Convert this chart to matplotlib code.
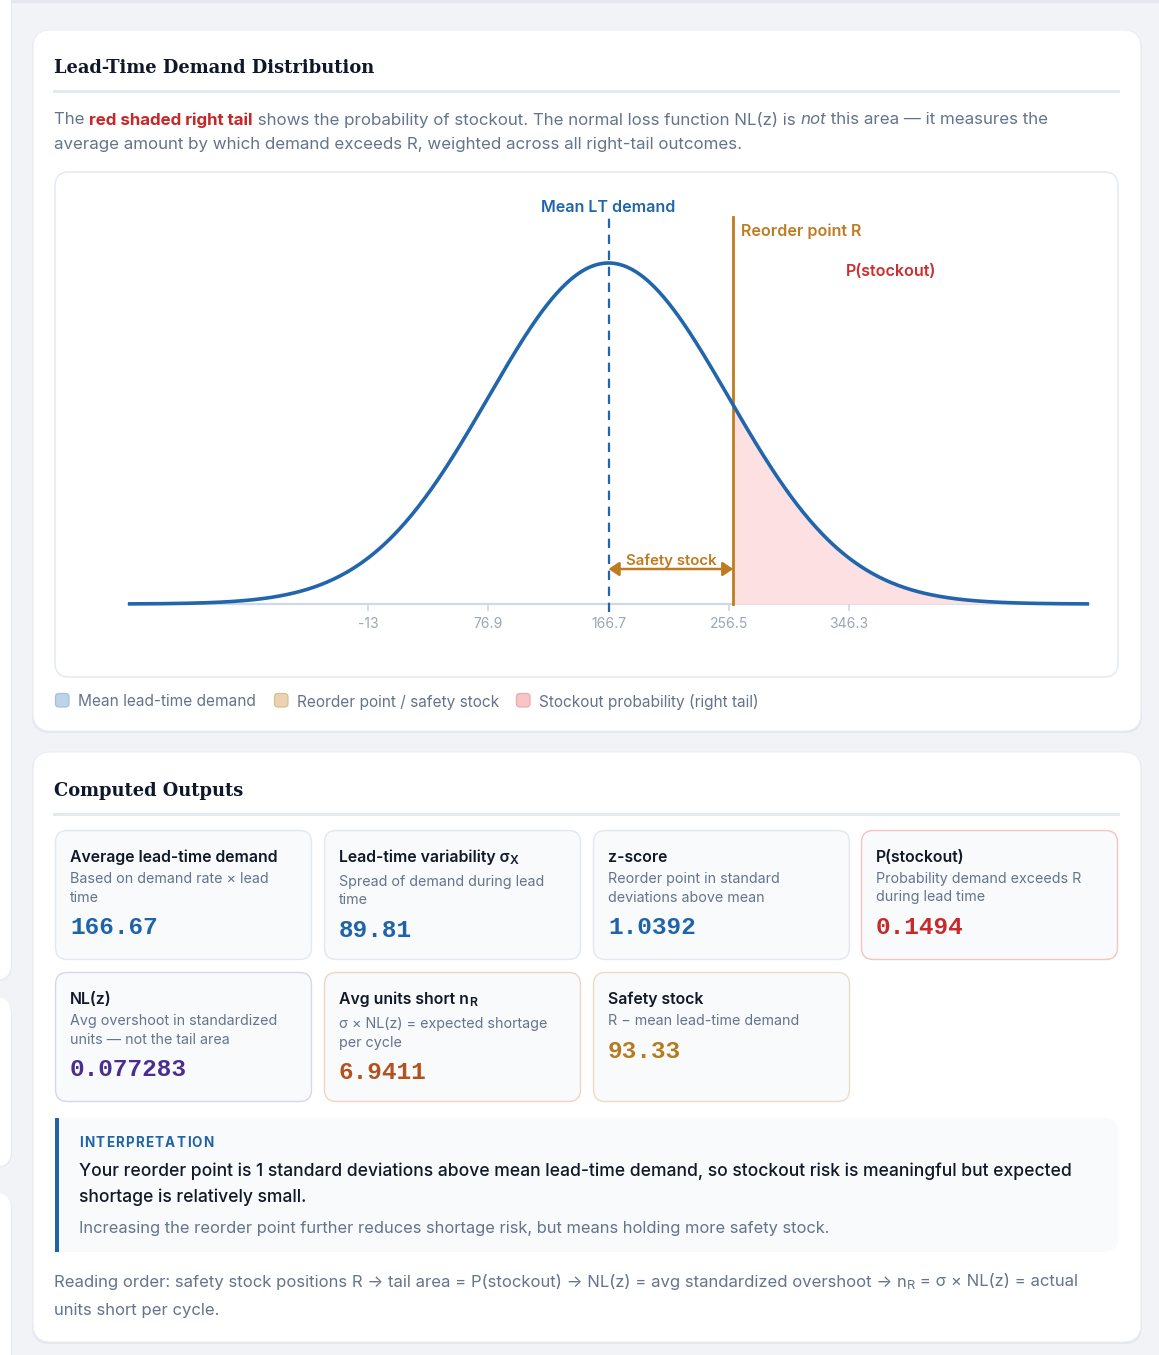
import matplotlib
matplotlib.use("Agg")
import matplotlib.pyplot as plt
from matplotlib.patches import FancyBboxPatch, Rectangle
import numpy as np

plt.rcParams['font.family'] = ['Inter', 'DejaVu Sans']

W, H = 1159, 1355

# ---- chart values ----
mean_lt = 166.67
sigma_lt = 89.81
reorder_point = 260.0
tick_values = [-13.0, 76.9, 166.7, 256.5, 346.3]
tick_labels = ['-13', '76.9', '166.7', '256.5', '346.3']

legend_labels = ['Mean lead-time demand', 'Reorder point / safety stock',
                 'Stockout probability (right tail)']
legend_fill = ['#bdd3ea', '#ebd3b2', '#f8c5c7']
legend_edge = ['#a3c0de', '#dcbd92', '#f0a9ac']

card_titles = [('Average lead-time demand', ''), ('Lead-time variability σ', 'X'),
               ('z-score', ''), ('P(stockout)', ''),
               ('NL(z)', ''), ('Avg units short n', 'R'), ('Safety stock', '')]
card_subtitles = [['Based on demand rate × lead', 'time'],
                  ['Spread of demand during lead', 'time'],
                  ['Reorder point in standard', 'deviations above mean'],
                  ['Probability demand exceeds R', 'during lead time'],
                  ['Avg overshoot in standardized', 'units — not the tail area'],
                  ['σ × NL(z) = expected shortage', 'per cycle'],
                  ['R − mean lead-time demand']]
card_values = ['166.67', '89.81', '1.0392', '0.1494', '0.077283', '6.9411', '93.33']
card_value_colors = ['#1f63a8', '#1f63a8', '#1f63a8', '#c62a2a', '#4a2d91', '#b4521d', '#b87a1f']
card_borders = ['#e2e8f0', '#e2e8f0', '#e2e8f0', '#f4c3c3', '#d9d5ee', '#f2d4c5', '#ecdcc3']

BLUE = '#2166ac'
ORANGE = '#bf7b20'
RED = '#cf2e2e'
GRAY = '#64748b'
DARK = '#111827'
TY = 2  # text baseline nudge, px

fig = plt.figure(figsize=(W / 100, H / 100), dpi=100)
fig.patch.set_facecolor('#f1f3f7')
bg = fig.add_axes([0, 0, 1, 1], zorder=0)
bg.set_xlim(0, W)
bg.set_ylim(H, 0)
bg.axis('off')
renderer = fig.canvas.get_renderer()


def box(x0, y0, x1, y1, r, fc, ec='none', lw=1.0, z=1):
    p = FancyBboxPatch((x0, y0), x1 - x0, y1 - y0,
                       boxstyle=f"round,pad=0,rounding_size={r}",
                       fc=fc, ec=ec, lw=lw, zorder=z)
    bg.add_patch(p)


def txt(x, y, s, size, **kw):
    kw.setdefault('va', 'center')
    kw.setdefault('ha', 'left')
    kw.setdefault('zorder', 5)
    return bg.text(x, y + TY, s, fontsize=size, **kw)


def text_w(s, size, **props):
    t = bg.text(0, 0, s + '|', fontsize=size, **props)
    t2 = bg.text(0, 0, '|', fontsize=size, **props)
    w = t.get_window_extent(renderer=renderer).width - t2.get_window_extent(renderer=renderer).width
    t.remove()
    t2.remove()
    return w


def rich(x, y, parts, size, color=GRAY):
    # parts: (text, props) ; props may hold 'dy' and 'size'
    for s, props in parts:
        props = dict(props)
        dy = props.pop('dy', 0)
        sz = props.pop('size', size)
        props.setdefault('color', color)
        txt(x, y + dy, s, sz, **props)
        x += text_w(s, sz, **props)
    return x


# ---- page background pieces ----
bg.add_patch(Rectangle((0, 0), W, 2.5, fc='#e4e7ee', ec='none', zorder=0.5))
for y0, y1 in [(-40, 980), (997, 1167), (1193, 1420)]:
    box(-40, y0 + 1, 12, y1 + 1, 16, '#e6e9f0', z=0.6)
    box(-40, y0, 11, y1, 16, 'white', z=0.7)

for y0, y1 in [(30, 731), (752, 1342)]:
    box(32, y0 + 1, 1142, y1 + 2, 18, '#e3e6ee', z=0.8)
    box(33, y0, 1141, y1, 18, 'white', ec='#eceef3', lw=0.8, z=0.9)

# ---- section 1 ----
serif = ['DejaVu Serif']
txt(54, 66, 'Lead-Time Demand Distribution', 12.85, fontweight='bold',
    family=serif, color='#0f172a')
bg.add_line(plt.Line2D([54, 1118], [91, 91], color='#e2e8f0', lw=2, zorder=5))

rich(54, 118, [('The ', {}), ('red shaded right tail', {'color': '#c62828', 'fontweight': 'bold'}),
               (' shows the probability of stockout. The normal loss function NL(z) is ', {}),
               ('not', {'style': 'italic'}),
               (' this area — it measures the', {})], 12.2)
rich(54, 143, [('average amount by which demand exceeds R, weighted across all right-tail outcomes.', {})], 12.2)

box(55, 172, 1118, 677, 14, 'white', ec='#e2e8f0', lw=1.0, z=1)

# chart axes, placed in pixel space
px0, py0, px1, py1 = 128, 172, 1089, 677
ax = fig.add_axes([px0 / W, 1 - py1 / H, (px1 - px0) / W, (py1 - py0) / H], zorder=2)
ax.patch.set_alpha(0)
base_px, peak_px = 604, 263
scale = base_px - peak_px
ax.set_xlim(mean_lt - 4 * sigma_lt, mean_lt + 4 * sigma_lt)
ax.set_ylim(-(py1 - base_px) / scale, (base_px - py0) / scale)


def yv(py):
    return (base_px - py) / scale


xs = np.linspace(mean_lt - 4 * sigma_lt, mean_lt + 4 * sigma_lt, 600)
pdf = np.exp(-0.5 * ((xs - mean_lt) / sigma_lt) ** 2)
tail = xs >= reorder_point
ax.fill_between(xs[tail], 0, pdf[tail], color='#fde0e1', lw=0, zorder=1)
ax.plot(xs, pdf, color=BLUE, lw=2.6, zorder=4, solid_capstyle='butt')
ax.plot([mean_lt, mean_lt], [yv(612), yv(218)], color=BLUE, lw=1.6,
        ls=(0, (4.2, 3)), zorder=3)
ax.plot([reorder_point, reorder_point], [0, yv(217)], color=ORANGE, lw=2.0, zorder=3)

ax.text(mean_lt, yv(206 + TY), 'Mean LT demand', color=BLUE, fontsize=11.6,
        fontweight='semibold', ha='center', va='center')
ax.annotate('Reorder point R', xy=(reorder_point, yv(229 + TY)), xytext=(5.5, 0),
            textcoords='offset points', color=ORANGE, fontsize=11.6,
            fontweight='semibold', ha='left', va='center')
ax.text(mean_lt + 2.35 * sigma_lt, yv(269 + TY), 'P(stockout)', color=RED, fontsize=11.6,
        fontweight='semibold', ha='center', va='center')

ax.annotate('', xy=(mean_lt, yv(569)), xytext=(reorder_point, yv(569)),
            arrowprops=dict(arrowstyle='<|-|>,head_length=0.45,head_width=0.3',
                            color=ORANGE, lw=1.8, shrinkA=0, shrinkB=0,
                            mutation_scale=14))
ax.text((mean_lt + reorder_point) / 2, yv(559 + TY), 'Safety stock', color=ORANGE,
        fontsize=10.8, fontweight='semibold', ha='center', va='center')

for s in ['top', 'right', 'left']:
    ax.spines[s].set_visible(False)
ax.spines['bottom'].set_position(('data', 0))
ax.spines['bottom'].set_color('#cfd8e3')
ax.spines['bottom'].set_linewidth(1.6)
ax.spines['bottom'].set_zorder(0.5)
ax.set_yticks([])
ax.set_xticks(tick_values)
ax.set_xticklabels(tick_labels)
ax.tick_params(axis='x', length=5, width=1.2, color='#cfd8e3', labelcolor='#9aa6b6',
               labelsize=10, pad=4.5)

# legend
leg_x = [55, 274, 516]
for lx, lab, fc, ec in zip(leg_x, legend_labels, legend_fill, legend_edge):
    box(lx + 0.5, 693.5, lx + 14, 707, 3.5, fc, ec=ec, lw=0.9, z=3)
    txt(lx + 23, 700, lab, 11.1, color=GRAY)

# ---- section 2 ----
txt(54, 789, 'Computed Outputs', 12.85, fontweight='bold',
    family=serif, color='#0f172a')
bg.add_line(plt.Line2D([54, 1118], [814, 814], color='#e2e8f0', lw=2, zorder=5))

col_x = [55, 324, 593, 861]
row_y = [830, 972]
cw, ch = 257, 130
for i, (title, sub) in enumerate(card_titles):
    cx = col_x[i % 4]
    cy = row_y[i // 4]
    box(cx + 0.5, cy + 0.5, cx + cw - 0.5, cy + ch - 0.5, 12, '#f8fafc',
        ec=card_borders[i], lw=1.0, z=2)
    parts = [(title, {'fontweight': 'semibold'})]
    shift = 0
    if sub:
        parts.append((sub, {'fontweight': 'semibold', 'size': 8.8, 'dy': 4}))
        shift = 3
    rich(cx + 15, cy + 25, parts, 11.4, color=DARK)
    yy = cy + 47 + shift
    for line in card_subtitles[i]:
        txt(cx + 15, yy, line, 10.3, color=GRAY)
        yy += 18.5
    txt(cx + 15, yy - 18.5 + 30, card_values[i], 17.6, family='Liberation Mono',
        fontweight='bold', color=card_value_colors[i])

# interpretation box
box(55, 1118, 1118, 1252, 14, '#f8fafc', z=2)
bg.add_patch(Rectangle((55, 1118), 30, 134, fc='#f8fafc', ec='none', zorder=2.1))
bg.add_patch(Rectangle((55, 1118), 4, 134, fc='#1f63a8', ec='none', zorder=2.2))
xx = 79
for c in 'INTERPRETATION':
    txt(xx, 1141, c, 9.7, fontweight='bold', color='#1f63a8')
    xx += text_w(c, 9.7, fontweight='bold') + 1.3
txt(79, 1169, 'Your reorder point is 1 standard deviations above mean lead-time demand, '
    'so stockout risk is meaningful but expected', 12.6, fontweight='medium', color=DARK)
txt(79, 1195, 'shortage is relatively small.', 12.6, fontweight='medium', color=DARK)
txt(79, 1226, 'Increasing the reorder point further reduces shortage risk, but means '
    'holding more safety stock.', 11.85, color=GRAY)

rich(54, 1280, [('Reading order: safety stock positions R → tail area = P(stockout) → NL(z) = '
                 'avg standardized overshoot → n', {}),
                ('R', {'size': 9.2, 'dy': 4}),
                (' = σ × NL(z) = actual', {})], 12.0)
rich(54, 1308, [('units short per cycle.', {})], 12.0)

fig.savefig('out.png', dpi=100, facecolor=fig.get_facecolor())
